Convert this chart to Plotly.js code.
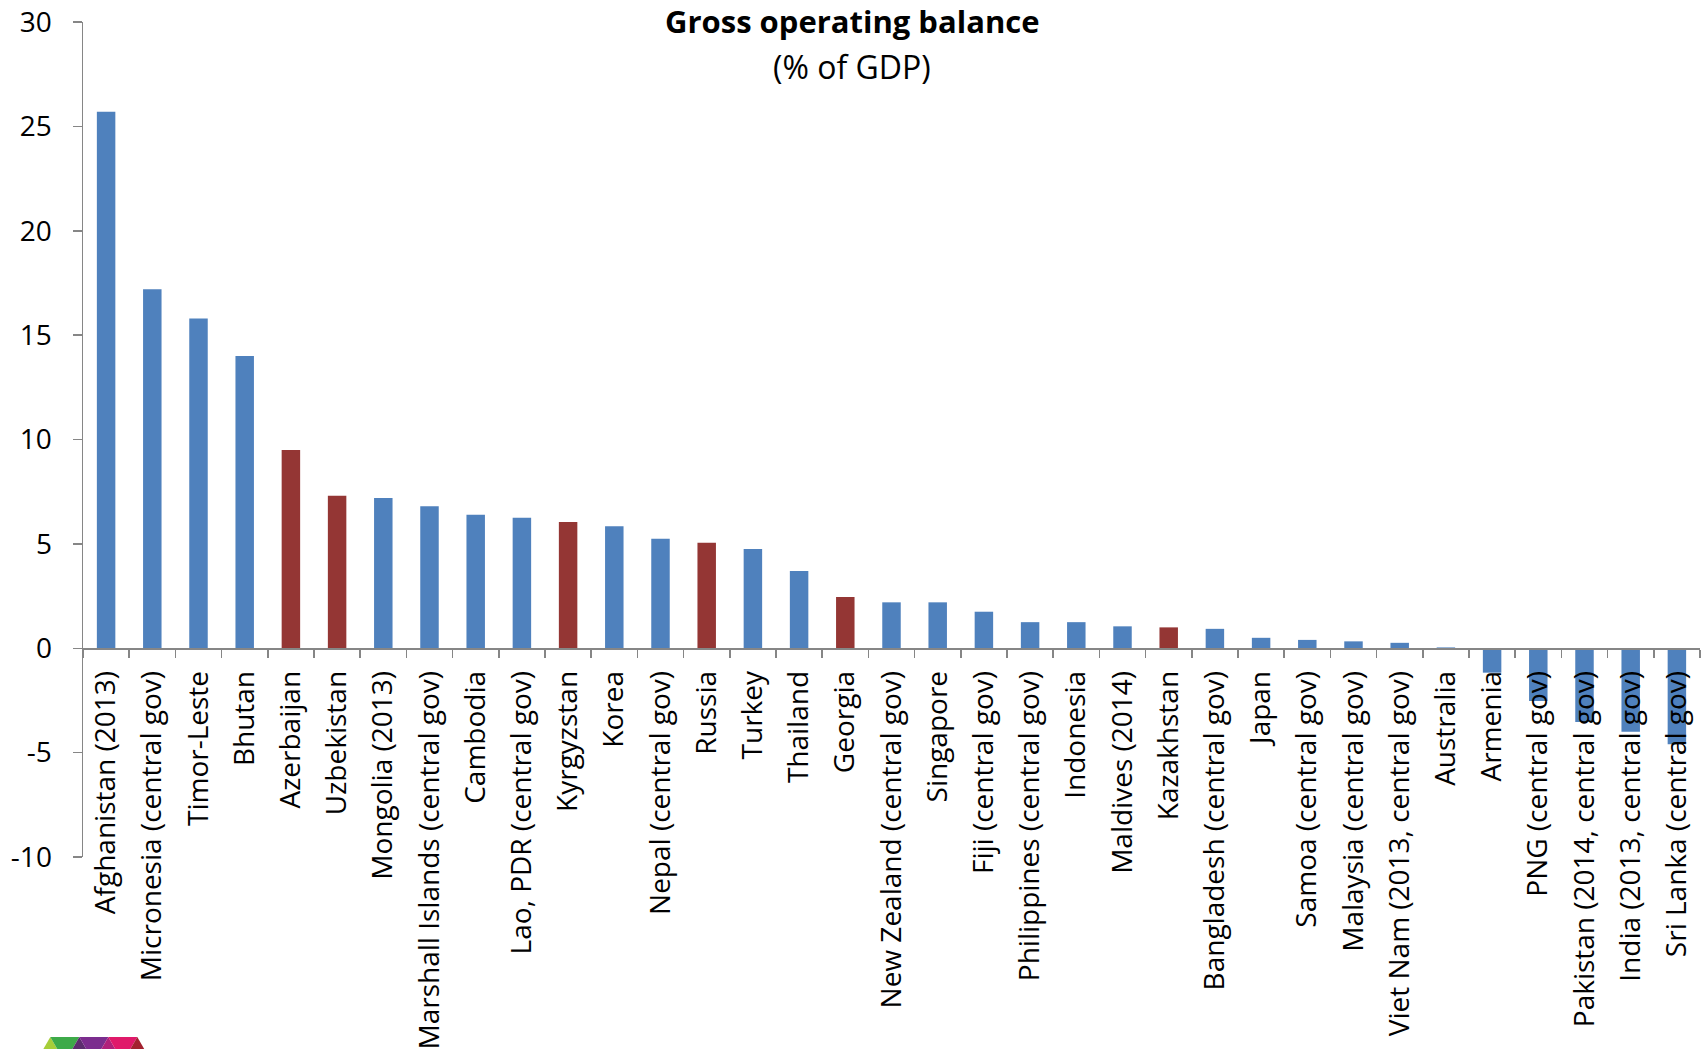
<!DOCTYPE html>
<html>
<head>
<meta charset="utf-8">
<script src="https://cdn.plot.ly/plotly-3.0.1.min.js"></script>
<style>
  html, body { margin: 0; padding: 0; background: #ffffff; }
  #chart { width: 1708px; height: 1049px; }
</style>
</head>
<body>
<div id="chart"></div>
<script>
// Gross operating balance, % of GDP
const countries = [
  "Afghanistan (2013)", "Micronesia (central gov)", "Timor-Leste", "Bhutan",
  "Azerbaijan", "Uzbekistan", "Mongolia (2013)", "Marshall Islands (central gov)",
  "Cambodia", "Lao, PDR (central gov)", "Kyrgyzstan", "Korea",
  "Nepal (central gov)", "Russia", "Turkey", "Thailand", "Georgia",
  "New Zealand (central gov)", "Singapore", "Fiji (central gov)",
  "Philippines (central gov)", "Indonesia", "Maldives (2014)", "Kazakhstan",
  "Bangladesh (central gov)", "Japan", "Samoa (central gov)",
  "Malaysia (central gov)", "Viet Nam (2013, central gov)", "Australia",
  "Armenia", "PNG (central gov)", "Pakistan (2014, central gov)",
  "India (2013, central gov)", "Sri Lanka (central gov)"
];

const balance = [
  25.7, 17.2, 15.8, 14.0,
  9.5, 7.3, 7.2, 6.8,
  6.4, 6.25, 6.05, 5.85,
  5.25, 5.05, 4.75, 3.7, 2.45,
  2.2, 2.2, 1.75,
  1.25, 1.25, 1.05, 1.0,
  0.93, 0.5, 0.4,
  0.33, 0.26, 0.04,
  -1.17, -2.53, -3.53,
  -4.0, -4.6
];

// Countries shown in the second colour
const highlighted = ["Azerbaijan", "Uzbekistan", "Kyrgyzstan", "Russia", "Georgia", "Kazakhstan"];

const yTickValues = [-10, -5, 0, 5, 10, 15, 20, 25, 30];
const yTickLabels = ["-10", "-5", "0", "5", "10", "15", "20", "25", "30"];

const BLUE = "#4F81BD";
const RED = "#943634";
const AXIS = "#868686";

const W = 1708, H = 1049;
const M = { l: 83, r: 8, t: 22, b: 192 };
const plotW = W - M.l - M.r;
const plotH = H - M.t - M.b;
const px2x = (px) => (px - M.l) / plotW;
const px2y = (py) => (H - M.b - py) / plotH;

const barColors = countries.map(c => highlighted.includes(c) ? RED : BLUE);

const trace = {
  type: "bar",
  x: countries,
  y: balance,
  marker: { color: barColors, line: { width: 0 } },
  hoverinfo: "x+y"
};

// Small triangle strip emblem in the lower-left corner
const emblemColors = ["#A6CE39", "#3DAA49", "#5C2D6E", "#7B2D8E", "#B0207A", "#E0196A", "#A3222F"];
const emblemShapes = [];
const apexTop = 1037, side = 29, tH = side * 0.866, x0 = 50.3;
emblemColors.forEach((col, i) => {
  const k = Math.floor(i / 2);
  let pts;
  if (i % 2 === 0) {
    const ax = x0 + k * side;
    pts = [[ax, apexTop], [ax - side / 2, apexTop + tH], [ax + side / 2, apexTop + tH]];
  } else {
    const lx = x0 + k * side;
    pts = [[lx, apexTop], [lx + side, apexTop], [lx + side / 2, apexTop + tH]];
  }
  const path = "M " + pts.map(p => px2x(p[0]).toFixed(5) + "," + px2y(p[1]).toFixed(5)).join(" L ") + " Z";
  emblemShapes.push({
    type: "path", xref: "paper", yref: "paper", path: path,
    fillcolor: col, line: { width: 0 }, layer: "above"
  });
});

const layout = {
  width: W,
  height: H,
  margin: M,
  paper_bgcolor: "#ffffff",
  plot_bgcolor: "#ffffff",
  showlegend: false,
  bargap: 0.6,
  font: { family: "Open Sans, sans-serif", color: "#000000" },
  xaxis: {
    type: "category",
    anchor: "free",
    position: (0 - (-10)) / (30 - (-10)),
    showline: true,
    linecolor: AXIS,
    linewidth: 1.5,
    ticks: "outside",
    tickson: "boundaries",
    ticklen: 8,
    tickwidth: 1.5,
    tickcolor: AXIS,
    tickangle: -90,
    tickfont: { family: "Open Sans, sans-serif", size: 28, color: "#000000" },
    ticklabelstandoff: 10,
    showgrid: false,
    zeroline: false,
    automargin: false,
    fixedrange: true
  },
  yaxis: {
    range: [-10, 30],
    tickmode: "array",
    tickvals: yTickValues,
    ticktext: yTickLabels,
    showline: true,
    linecolor: AXIS,
    linewidth: 1.5,
    ticks: "outside",
    ticklen: 9,
    tickwidth: 1.5,
    tickcolor: AXIS,
    tickfont: { family: "Open Sans, sans-serif", size: 28, color: "#000000" },
    ticklabelstandoff: 15,
    showgrid: false,
    zeroline: false,
    automargin: false,
    fixedrange: true
  },
  annotations: [
    {
      text: "<b>Gross operating balance</b>",
      xref: "paper", yref: "paper",
      x: px2x(852), y: px2y(21),
      xanchor: "center", yanchor: "middle",
      showarrow: false,
      font: { family: "Open Sans, sans-serif", size: 31, color: "#000000" }
    },
    {
      text: "(% of GDP)",
      xref: "paper", yref: "paper",
      x: px2x(852), y: px2y(67),
      xanchor: "center", yanchor: "middle",
      showarrow: false,
      font: { family: "Open Sans, sans-serif", size: 32, color: "#000000" }
    }
  ],
  shapes: emblemShapes
};

Plotly.newPlot("chart", [trace], layout, { displayModeBar: false, staticPlot: true });
</script>
</body>
</html>
